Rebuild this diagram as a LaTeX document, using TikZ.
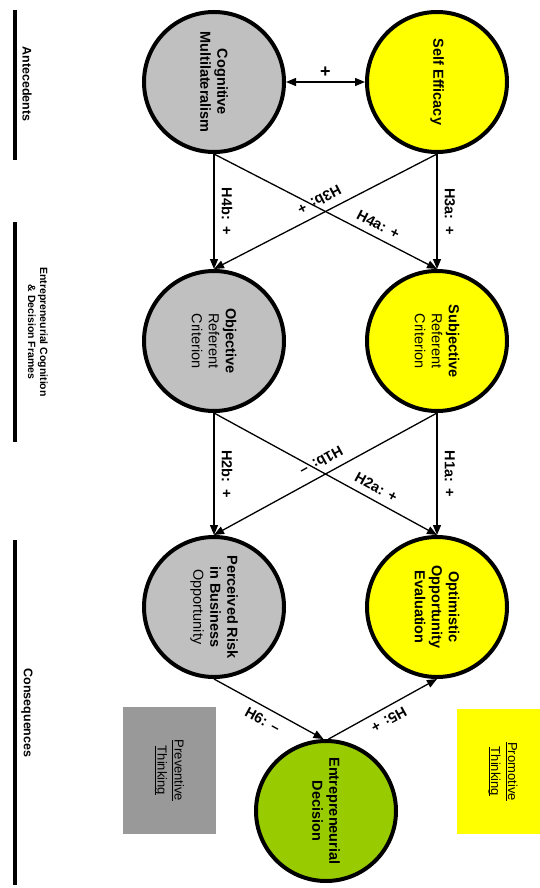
\documentclass[tikz,border=0pt]{standalone}
\usepackage{fontspec}
\setmainfont{Liberation Sans}
\usetikzlibrary{arrows.meta}
\definecolor{conceptgray}{HTML}{C0C0C0}
\definecolor{conceptyellow}{HTML}{FFFF00}
\definecolor{decisiongreen}{HTML}{99CC00}
\definecolor{boxgray}{HTML}{999999}
% underline at a fixed depth below the baseline
\newsavebox\ulwordbox
\newcommand{\lineunder}[1]{\sbox\ulwordbox{#1}\rlap{\usebox\ulwordbox}\rule[-2.6pt]{\wd\ulwordbox}{0.9pt}}
\begin{document}
\begin{tikzpicture}[x=1pt,y=-1pt,
  >={Triangle[length=10pt,width=8pt]},
  concept/.style={circle,draw=black,line width=4pt,minimum size=140pt,inner sep=0pt},
  ctext/.style={rotate=-90,align=center,inner sep=0pt,font=\fontsize{14.5}{17}\selectfont},
  link/.style={line width=1.3pt,->},
  hyp/.style={font=\bfseries\fontsize{14.5}{16}\selectfont,inner xsep=1pt,inner ysep=7pt},
  sect/.style={rotate=-90,align=center,inner sep=0pt},
  bar/.style={line width=4pt},
  frame/.style={rotate=-90,align=center,inner sep=0pt,font=\fontsize{13}{17}\selectfont}]
\clip (0,0) rectangle (540,888);

% section bars and headings
\draw[bar] (15,10) -- (15,160);
\draw[bar] (15,222) -- (15,442);
\draw[bar] (15,540) -- (15,885);
\node[sect,font=\bfseries\fontsize{12.5}{13}\selectfont] (antl) at (27,84) {Antecedents};
\node[sect,font=\bfseries\fontsize{10.5}{12}\selectfont] (ecl) at (38,332) {Entrepreneurial Cognition\\\& Decision Frames};
\node[sect,font=\bfseries\fontsize{12.5}{13}\selectfont] (conl) at (27,713) {Consequences};

% concepts
\node[concept,fill=conceptgray] (cm) at (214,82) {};
\node[ctext] (cmt) at (cm.center) {\textbf{Cognitive}\\\textbf{Multilateralism}};
\node[concept,fill=conceptyellow] (se) at (437,82) {};
\node[ctext] (set) at (se.center) {\textbf{Self Efficacy}};

\node[concept,fill=conceptgray] (obj) at (214,341) {};
\node[ctext] (objt) at (obj.center) {\textbf{Objective}\\Referent\\Criterion};
\node[concept,fill=conceptyellow] (sub) at (437,341) {};
\node[ctext] (subt) at (sub.center) {\textbf{Subjective}\\Referent\\Criterion};

\node[concept,fill=conceptgray] (pr) at (214,607) {};
\node[ctext] (prt) at (pr.center) {\textbf{Perceived Risk}\\\textbf{in Business}\\Opportunity};
\node[concept,fill=conceptyellow] (opt) at (437,607) {};
\node[ctext] (optt) at (opt.center) {\textbf{Optimistic}\\\textbf{Opportunity}\\\textbf{Evaluation}};

\node[concept,fill=decisiongreen] (ed) at (326,811) {};
\node[ctext] (edt) at (ed.center) {\textbf{Entrepreneurial}\\\textbf{Decision}};

% thinking frames
\node[frame,fill=boxgray,minimum width=127pt,minimum height=93pt] (prev) at (169.5,770.5) {\lineunder{Preventive}\\\lineunder{Thinking}};
\node[frame,fill=conceptyellow,minimum width=125pt,minimum height=92pt] (prom) at (503,771.5) {\lineunder{Promotive}\\\lineunder{Thinking}};

% hypotheses
\draw[link,<->] (cm.east) -- node[hyp,above,font=\bfseries\fontsize{18}{18}\selectfont,inner ysep=4pt] (hplus) {+} (se.west);

\draw[link] (cm.south) -- node[hyp,rotate=-90,anchor=south] (h4b) {H4b:\hspace{7pt}+} (obj.north);
\draw[link] (se.south) -- node[hyp,rotate=-90,anchor=south] (h3a) {H3a:\hspace{7pt}+} (sub.north);
\draw[link] (cm.south) -- node[hyp,pos=0.71,rotate=-27.3,anchor=south] (h4a) {H4a:\hspace{6pt}+} (sub.north);
\draw[link] (se.south) -- node[hyp,pos=0.5,rotate=207.3,anchor=north] (h3b) {H3b:\hspace{6pt}+} (obj.north);

\draw[link] (obj.south) -- node[hyp,rotate=-90,anchor=south] (h2b) {H2b:\hspace{7pt}+} (pr.north);
\draw[link] (sub.south) -- node[hyp,rotate=-90,anchor=south] (h1a) {H1a:\hspace{7pt}+} (opt.north);
\draw[link] (obj.south) -- node[hyp,pos=0.70,rotate=-28.7,anchor=south] (h2a) {H2a:\hspace{6pt}+} (opt.north);
\draw[link] (sub.south) -- node[hyp,pos=0.49,rotate=208.7,anchor=north] (h1b) {H1b:\hspace{6pt}--} (pr.north);

\draw[link] (pr.south) -- node[hyp,pos=0.5,rotate=-28.7,anchor=north] (h6) {H6:\hspace{6pt}--} (ed.92);
\draw[link] (ed.88) -- node[hyp,pos=0.5,rotate=209,anchor=south] (h5) {H5:\hspace{6pt}+} (opt.south);
\end{tikzpicture}
\end{document}
